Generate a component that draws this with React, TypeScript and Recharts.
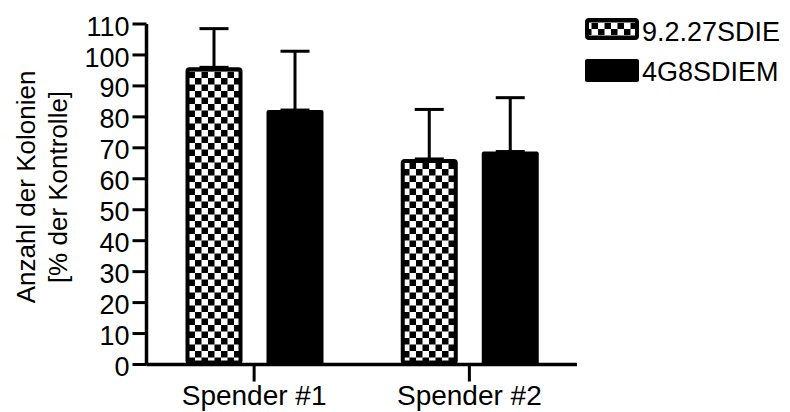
import React from "react";
import { BarChart, Bar, XAxis, YAxis, ErrorBar } from "recharts";

// Colony counts per donor, as % of control (mean and upper SD)
const donors = ["Spender #1", "Spender #2"];
const seriesNames = ["9.2.27SDIE", "4G8SDIEM"];
const mean927 = [96, 66.4];
const sd927 = [12.5, 16];
const mean4G8 = [82.2, 68.8];
const sd4G8 = [19, 17.4];
const yTicks = [0, 10, 20, 30, 40, 50, 60, 70, 80, 90, 100, 110];

const data = donors.map((donor, i) => ({
  donor,
  a: mean927[i],
  aErr: [0, sd927[i]],
  b: mean4G8[i],
  bErr: [0, sd4G8[i]],
}));

const FONT = "'Liberation Sans', Arial, sans-serif";

// checkered bar, black outline drawn inside the bar bounds
const CheckerBar = (props: any) => {
  const { x, y, width, height } = props;
  if (!height) return null;
  const sw = 4;
  return (
    <rect
      x={x + sw / 2}
      y={y + sw / 2}
      width={width - sw}
      height={height - sw}
      rx={2}
      fill="url(#checker)"
      stroke="#000"
      strokeWidth={sw}
    />
  );
};

const SolidBar = (props: any) => {
  const { x, y, width, height } = props;
  if (!height) return null;
  return <rect x={x} y={y} width={width} height={height} rx={2} fill="#000" />;
};

const AxisTitle = () => {
  const cx = 35;
  const cy = 187;
  return (
    <text
      x={cx}
      y={cy}
      transform={`rotate(-90, ${cx}, ${cy})`}
      textAnchor="middle"
      fontFamily={FONT}
      fontSize={26}
      fill="#000"
    >
      <tspan x={cx} dy={0}>Anzahl der Kolonien</tspan>
      <tspan x={cx} dy={32}>[% der Kontrolle]</tspan>
    </text>
  );
};

// legend drawn on its own so it takes no room from the plot
const LegendBox = () => (
  <svg width={205} height={70} style={{ position: "absolute", left: 585, top: 16 }}>
    <rect x={2} y={4} width={50} height={18} rx={2} fill="url(#checker)" stroke="#000" strokeWidth={4} />
    <text x={57} y={25} fontFamily={FONT} fontSize={27} fill="#000">
      {seriesNames[0]}
    </text>
    <rect x={0} y={43} width={54} height={23} rx={2} fill="#000" />
    <text x={57} y={65} fontFamily={FONT} fontSize={27} fill="#000">
      {seriesNames[1]}
    </text>
  </svg>
);

export default function App() {
  return (
    <div style={{ position: "fixed", left: 0, top: 0, width: 790, height: 412, background: "#fff" }}>
      <svg width={0} height={0} style={{ position: "absolute" }}>
        <defs>
          <pattern id="checker" patternUnits="userSpaceOnUse" width={13} height={13}>
            <rect width={13} height={13} fill="#fff" />
            <rect x={0} y={0} width={6.5} height={6.5} fill="#000" />
            <rect x={6.5} y={6.5} width={6.5} height={6.5} fill="#000" />
          </pattern>
        </defs>
      </svg>
      <BarChart
        width={790}
        height={412}
        data={data}
        margin={{ top: 24, right: 213, bottom: 0, left: 0 }}
        barSize={57}
        barGap={24}
      >
        <XAxis
          dataKey="donor"
          height={47.5}
          interval={0}
          axisLine={{ stroke: "#000", strokeWidth: 3.5 }}
          tickLine={{ stroke: "#000", strokeWidth: 3 }}
          tickSize={17}
          tickMargin={4}
          tick={{ fill: "#000", fontSize: 28, fontFamily: FONT }}
        />
        <YAxis
          width={146.5}
          domain={[0, 110]}
          ticks={yTicks}
          interval={0}
          axisLine={{ stroke: "#000", strokeWidth: 3.5 }}
          tickLine={{ stroke: "#000", strokeWidth: 3 }}
          tickSize={14}
          tickMargin={3}
          tick={{ fill: "#000", fontSize: 27, fontFamily: FONT, dy: 2 }}
          label={<AxisTitle />}
        />
        <Bar dataKey="a" name={seriesNames[0]} shape={<CheckerBar />} isAnimationActive={false}>
          <ErrorBar dataKey="aErr" direction="y" width={14.5} stroke="#000" strokeWidth={3} />
        </Bar>
        <Bar dataKey="b" name={seriesNames[1]} shape={<SolidBar />} isAnimationActive={false}>
          <ErrorBar dataKey="bErr" direction="y" width={14.5} stroke="#000" strokeWidth={3} />
        </Bar>
      </BarChart>
      <LegendBox />
    </div>
  );
}
